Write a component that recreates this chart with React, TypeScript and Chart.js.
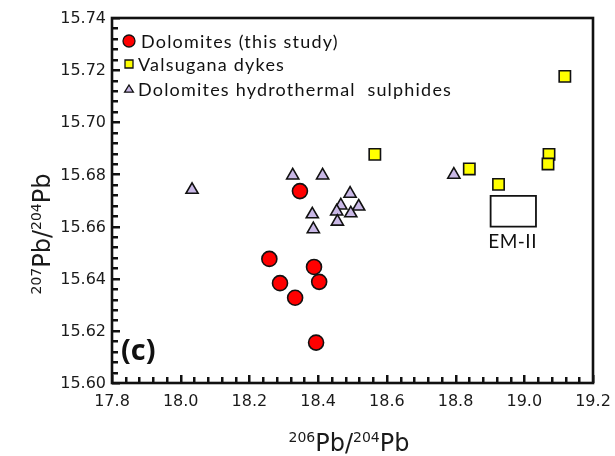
import React, { useEffect, useRef } from "react";
import { Chart, registerables } from "chart.js";

Chart.register(...registerables);

// ---- Data ----
const dolomitesX = [18.347, 18.258, 18.388, 18.289, 18.403, 18.333, 18.394];
const dolomitesY = [15.6736, 15.6476, 15.6445, 15.6383, 15.6388, 15.6327, 15.6155];

const valsuganaX = [18.565, 18.84, 18.925, 19.072, 19.069, 19.118];
const valsuganaY = [15.6877, 15.6821, 15.6762, 15.6877, 15.684, 15.7176];

const sulphidesX = [18.033, 18.326, 18.413, 18.493, 18.466, 18.518, 18.454, 18.495, 18.383, 18.456, 18.386, 18.795];
const sulphidesY = [15.6741, 15.6796, 15.6796, 15.6726, 15.6681, 15.6677, 15.6658, 15.6651, 15.6647, 15.6619, 15.659, 15.6799];

const xTickLabels = ["17.8", "18.0", "18.2", "18.4", "18.6", "18.8", "19.0", "19.2"];
const yTickLabels = ["15.60", "15.62", "15.64", "15.66", "15.68", "15.70", "15.72", "15.74"];

const emBoxX = [18.902, 19.034];
const emBoxY = [15.66, 15.6718];
const emLabel = "EM-II";
const emLabelPos = [18.966, 15.6543];
const panelLabel = "(c)";

const seriesNames = ["Dolomites (this study)", "Valsugana dykes", "Dolomites hydrothermal  sulphides"];

const xMin = 17.8, xMax = 19.2, yMin = 15.6, yMax = 15.74;
const xMinorStep = 0.04, yMinorStep = 0.004;

const zip = (xs: number[], ys: number[]) => xs.map((x, i) => ({ x, y: ys[i] }));

const decoPlugin = {
  id: "deco",
  beforeDatasetsDraw(chart: any) {
    const ctx = chart.ctx;
    const xs = chart.scales.x;
    const ys = chart.scales.y;
    // EM-II box
    const x1 = xs.getPixelForValue(emBoxX[0]);
    const x2 = xs.getPixelForValue(emBoxX[1]);
    const y1 = ys.getPixelForValue(emBoxY[1]);
    const y2 = ys.getPixelForValue(emBoxY[0]);
    ctx.save();
    ctx.strokeStyle = "#111";
    ctx.lineWidth = 1.8;
    ctx.beginPath();
    ctx.rect(x1, y1, x2 - x1, y2 - y1);
    ctx.stroke();
    ctx.fillStyle = "#111";
    ctx.font = "19px Lato, 'Open Sans', sans-serif";
    (ctx as any).letterSpacing = "0.5px";
    ctx.textAlign = "center";
    ctx.textBaseline = "middle";
    ctx.fillText(emLabel, xs.getPixelForValue(emLabelPos[0]), ys.getPixelForValue(emLabelPos[1]));
    ctx.restore();
  },
  afterDraw(chart: any) {
    const ctx = chart.ctx;
    const { left, right, top, bottom } = chart.chartArea;
    const xs = chart.scales.x;
    const ys = chart.scales.y;
    ctx.save();
    // frame
    ctx.strokeStyle = "#111";
    ctx.lineWidth = 2.6;
    ctx.strokeRect(left, top, right - left, bottom - top);

    // inward ticks (filled rectangles)
    ctx.fillStyle = "#111";
    const nx = Math.round((xMax - xMin) / xMinorStep);
    for (let i = 0; i <= nx; i++) {
      const px = xs.getPixelForValue(xMin + i * xMinorStep);
      const len = i % 5 === 0 ? 8 : 6;
      ctx.fillRect(Math.round(px) - 1, bottom - len, 2.5, len);
    }
    const ny = Math.round((yMax - yMin) / yMinorStep);
    for (let i = 0; i <= ny; i++) {
      const py = ys.getPixelForValue(yMin + i * yMinorStep);
      const len = i % 5 === 0 ? 8 : 6;
      ctx.fillRect(left, Math.round(py) - 1, len, 2.5);
    }

    // tick labels
    ctx.fillStyle = "#1a1a1a";
    ctx.font = "16px 'DejaVu Sans', sans-serif";
    ctx.textAlign = "center";
    ctx.textBaseline = "middle";
    xTickLabels.forEach((t) => {
      ctx.fillText(t, xs.getPixelForValue(parseFloat(t)), bottom + 19);
    });
    ctx.textAlign = "right";
    yTickLabels.forEach((t) => {
      ctx.fillText(t, left - 6, ys.getPixelForValue(parseFloat(t)) + 1);
    });

    // axis titles with superscripts
    const drawTitle = (parts: [string, boolean][], cx: number, cy: number, rot: number) => {
      ctx.save();
      ctx.translate(cx, cy);
      ctx.rotate(rot);
      const big = "24px 'DejaVu Sans', sans-serif";
      const small = "14px 'DejaVu Sans', sans-serif";
      let w = 0;
      parts.forEach(([s, sup]) => {
        ctx.font = sup ? small : big;
        w += ctx.measureText(s).width;
      });
      let x = -w / 2;
      ctx.textAlign = "left";
      ctx.textBaseline = "alphabetic";
      parts.forEach(([s, sup]) => {
        ctx.font = sup ? small : big;
        ctx.fillText(s, x, sup ? -9 : 0);
        x += ctx.measureText(s).width;
      });
      ctx.restore();
    };
    drawTitle([["206", true], ["Pb/", false], ["204", true], ["Pb", false]], 349, 451, 0);
    drawTitle([["207", true], ["Pb/", false], ["204", true], ["Pb", false]], 50, 234, -Math.PI / 2);

    // panel label
    ctx.fillStyle = "#111";
    ctx.font = "bold 29px 'Open Sans', Lato, sans-serif";
    ctx.textAlign = "left";
    ctx.textBaseline = "middle";
    ctx.fillText(panelLabel, left + 9, bottom - 31);

    // legend
    const rows = [
      { y: top + 23, style: "circle", r: 6, fill: "#ff0000" },
      { y: top + 46, style: "rect", r: 4, fill: "#ffff00" },
      { y: top + 71, style: "triangle", r: 4, fill: "#c9b8e6" },
    ];
    ctx.font = "18px Lato, 'Open Sans', sans-serif";
    (ctx as any).letterSpacing = "1.2px";
    ctx.textBaseline = "middle";
    ctx.textAlign = "left";
    rows.forEach((row, i) => {
      const mx = left + 17;
      ctx.fillStyle = row.fill;
      ctx.strokeStyle = "#111";
      ctx.lineWidth = 1.3;
      ctx.beginPath();
      if (row.style === "circle") {
        ctx.arc(mx, row.y, row.r, 0, Math.PI * 2);
      } else if (row.style === "rect") {
        ctx.rect(mx - row.r, row.y - row.r, row.r * 2, row.r * 2);
      } else {
        ctx.moveTo(mx, row.y - row.r);
        ctx.lineTo(mx + row.r * 1.1, row.y + row.r * 0.8);
        ctx.lineTo(mx - row.r * 1.1, row.y + row.r * 0.8);
        ctx.closePath();
      }
      ctx.fill();
      ctx.stroke();
      ctx.fillStyle = "#111";
      ctx.fillText(seriesNames[i], left + (i === 0 ? 29 : 26), row.y + 1);
    });
    ctx.restore();
  },
};

export default function App() {
  const ref = useRef<HTMLCanvasElement>(null);
  useEffect(() => {
    document.body.style.margin = "0";
    const canvas = ref.current!;
    const chart = new Chart(canvas, {
      type: "scatter",
      data: {
        datasets: [
          {
            label: seriesNames[0],
            data: zip(dolomitesX, dolomitesY),
            pointStyle: "circle",
            pointRadius: 7.5,
            backgroundColor: "#ff0000",
            borderColor: "#111",
            borderWidth: 1.6,
          },
          {
            label: seriesNames[1],
            data: zip(valsuganaX, valsuganaY),
            pointStyle: "rect",
            pointRadius: 8,
            backgroundColor: "#ffff00",
            borderColor: "#111",
            borderWidth: 1.6,
          },
          {
            label: seriesNames[2],
            data: zip(sulphidesX, sulphidesY),
            pointStyle: "triangle",
            pointRadius: 7,
            backgroundColor: "#c9b8e6",
            borderColor: "#111",
            borderWidth: 1.6,
          },
        ],
      },
      options: {
        responsive: false,
        animation: false,
        events: [],
        layout: { padding: { left: 0, top: 18, right: 22, bottom: 0 } },
        plugins: { legend: { display: false }, tooltip: { enabled: false } },
        scales: {
          x: {
            type: "linear",
            min: xMin,
            max: xMax,
            grid: { display: false, drawTicks: false },
            border: { display: false },
            ticks: { display: false },
            afterFit: (s: any) => { s.height = 73; },
          },
          y: {
            type: "linear",
            min: yMin,
            max: yMax,
            grid: { display: false, drawTicks: false },
            border: { display: false },
            ticks: { display: false },
            afterFit: (s: any) => { s.width = 112; },
          },
        },
      },
      plugins: [decoPlugin],
    } as any);
    return () => chart.destroy();
  }, []);
  return (
    <div style={{ width: 615, height: 456, background: "#fff" }}>
      <canvas ref={ref} width={615} height={456} style={{ display: "block" }} />
    </div>
  );
}
